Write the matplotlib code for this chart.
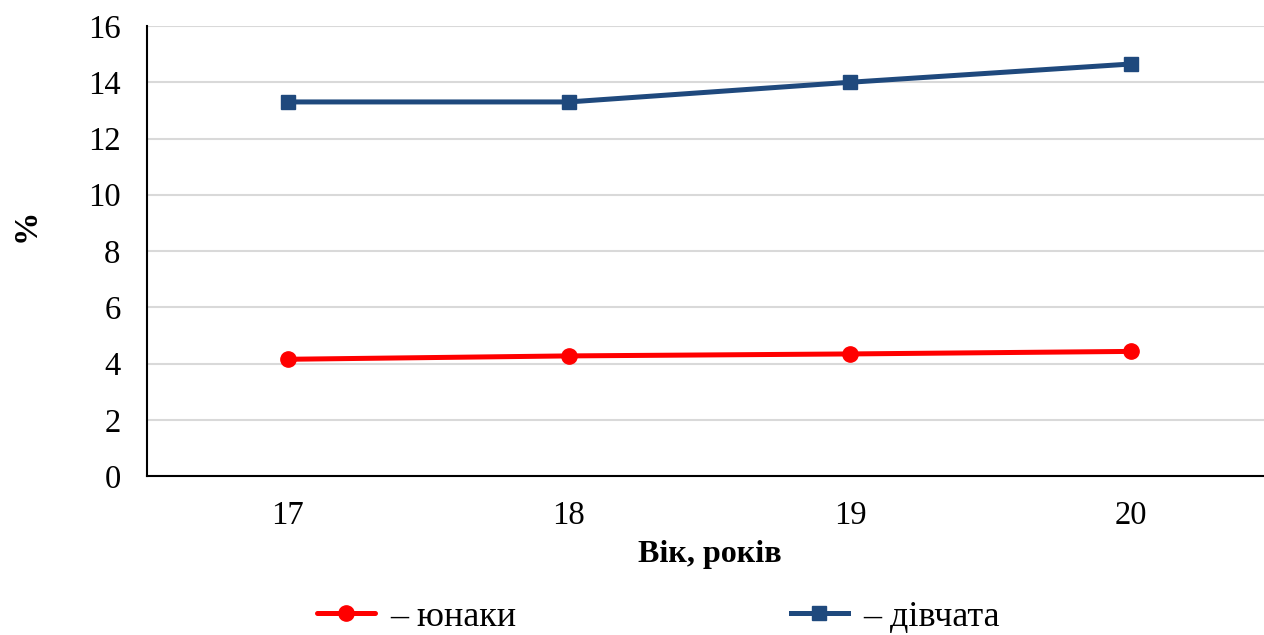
import matplotlib
matplotlib.use('Agg')
import matplotlib.pyplot as plt

# ------------------------------------------------------------------
# Data
# ------------------------------------------------------------------
ages = ['17', '18', '19', '20']
boys = [4.15, 4.27, 4.34, 4.43]
girls = [13.3, 13.3, 14.0, 14.65]
y_ticks = [0, 2, 4, 6, 8, 10, 12, 14, 16]

RED = '#FF0000'
BLUE = '#1F497D'
GRID = '#D9D9D9'

plt.rcParams['font.family'] = ['Liberation Serif', 'DejaVu Serif']

fig = plt.figure(figsize=(12.64, 6.35), dpi=100)
# axes spans past the right edge, like the original Excel export
ax = fig.add_axes([147 / 1264, 1 - 476 / 635, 1125 / 1264, 450 / 635])

x = list(range(len(ages)))
ax.plot(x, boys, color=RED, linewidth=3.6, marker='o', markersize=11,
        label='– юнаки', solid_capstyle='round')
ax.plot(x, girls, color=BLUE, linewidth=3.6, marker='s', markersize=10,
        label='– дівчата')

ax.set_xlim(-0.5, 3.5)
ax.set_ylim(0, 16)
ax.set_xticks(x)
ax.set_xticklabels(ages)
ax.set_yticks(y_ticks)

ax.tick_params(axis='both', length=0, labelsize=23.5, colors='black')
ax.tick_params(axis='y', pad=19)
ax.tick_params(axis='x', pad=18)

for s in ('top', 'right'):
    ax.spines[s].set_visible(False)
ax.spines['left'].set_color('black')
ax.spines['bottom'].set_color('black')
ax.spines['left'].set_linewidth(1.5)
ax.spines['bottom'].set_linewidth(1.5)

ax.grid(axis='y', color=GRID, linewidth=1.5)
ax.set_axisbelow(True)

ax.set_xlabel('Вік, років', fontsize=23, fontweight='bold', labelpad=6)
ax.set_ylabel('%', fontsize=24, fontweight='bold')
ax.yaxis.set_label_coords(-0.094, 0.556)

fig.legend(loc='center', bbox_to_anchor=(0.521, 0.028), ncol=2,
           frameon=False, fontsize=26, handlelength=1.6, handletextpad=0.42,
           columnspacing=7.6, borderpad=0.2)

fig.savefig('out.png', dpi=100, facecolor='white')
